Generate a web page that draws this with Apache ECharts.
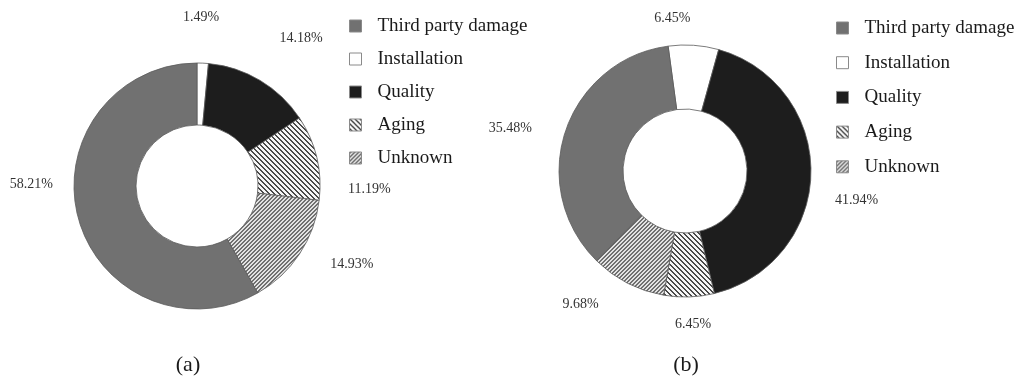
<!DOCTYPE html>
<html>
<head>
<meta charset="utf-8">
<script src="https://cdn.jsdelivr.net/npm/echarts@6/dist/echarts.min.js"></script>
<style>
  html, body { margin: 0; padding: 0; background: #ffffff; }
  #chart { width: 1021px; height: 383px; }
</style>
</head>
<body>
<div id="chart"></div>
<script>
// Failure causes, share of cases (%) for the two pipeline sets
const categories = ['Third party damage', 'Installation', 'Quality', 'Aging', 'Unknown'];
const shareA = [58.21, 1.49, 14.18, 11.19, 14.93];
const shareB = [35.48, 6.45, 41.94, 6.45, 9.68];
const panelCaptions = ['(a)', '(b)'];

// slices run clockwise from the top, beginning with Installation
const sliceOrder = [1, 2, 3, 4, 0];

const SERIF = '"Liberation Serif", "DejaVu Serif", serif';

// diagonal hatch tile; dir 'back' = "\" stripes, 'fwd' = "/" stripes
function hatch(dir, ink, paper, period, width) {
  const c = document.createElement('canvas');
  c.width = period; c.height = period;
  const ctx = c.getContext('2d');
  const img = ctx.createImageData(period, period);
  const parse = h => [parseInt(h.slice(1, 3), 16), parseInt(h.slice(3, 5), 16), parseInt(h.slice(5, 7), 16)];
  const a = parse(ink), b = parse(paper);
  for (let y = 0; y < period; y++) {
    for (let x = 0; x < period; x++) {
      const k = dir === 'back' ? ((x - y) % period + period) % period : (x + y) % period;
      const col = k < width ? a : b;
      const i = (y * period + x) * 4;
      img.data[i] = col[0]; img.data[i + 1] = col[1]; img.data[i + 2] = col[2]; img.data[i + 3] = 255;
    }
  }
  ctx.putImageData(img, 0, 0);
  return { image: c, repeat: 'repeat' };
}

const fills = {
  'Third party damage': '#717171',
  'Installation': '#ffffff',
  'Quality': '#1d1d1d',
  'Aging': hatch('back', '#4a4a4a', '#f6f6f6', 5, 2),
  'Unknown': hatch('fwd', '#707070', '#e2e2e2', 4, 2)
};

// fine placement of the percentage labels around each ring
const labelShiftA = {
  'Third party damage': [11, -40], 'Installation': [-32, -20], 'Quality': [-5, -20],
  'Aging': [-5, 38], 'Unknown': [-2, -4]
};
const labelShiftB = {
  'Third party damage': [2, 5], 'Installation': [-52, -1], 'Quality': [-13, 27],
  'Aging': [-26, 1], 'Unknown': [-6, -2]
};

function buildData(values, shifts) {
  return sliceOrder.map(i => ({
    name: categories[i],
    value: values[i],
    itemStyle: { color: fills[categories[i]] },
    label: { offset: shifts[categories[i]] }
  }));
}

function ringSeries(id, values, center, radius, startAngle, shifts) {
  return {
    type: 'pie',
    id: id,
    center: center,
    radius: radius,
    startAngle: startAngle,
    clockwise: true,
    avoidLabelOverlap: false,
    animation: false,
    silent: true,
    itemStyle: { borderColor: '#5a5a5a', borderWidth: 0.8 },
    label: {
      show: true,
      position: 'outside',
      formatter: p => p.value.toFixed(2) + '%',
      fontFamily: SERIF,
      fontSize: 14,
      color: '#333333'
    },
    labelLine: { show: false, length: 26, length2: 6 },
    emphasis: { disabled: true },
    data: buildData(values, shifts)
  };
}

function legendBox(seriesIndex, left, top, gap) {
  return {
    seriesIndex: seriesIndex,
    data: categories,
    orient: 'vertical',
    left: left,
    top: top,
    icon: 'rect',
    itemWidth: 12,
    itemHeight: 12,
    itemGap: gap,
    selectedMode: false,
    itemStyle: { borderColor: '#8a8a8a', borderWidth: 1 },
    textStyle: {
      fontFamily: SERIF,
      fontSize: 19,
      color: '#1a1a1a',
      lineHeight: 20,
      padding: [0, 0, 0, 11]
    }
  };
}

const chart = echarts.init(document.getElementById('chart'), null, { renderer: 'canvas' });
chart.setOption({
  backgroundColor: '#ffffff',
  legend: [legendBox(0, 344, 11, 13), legendBox(1, 831, 13, 14.7)],
  series: [
    ringSeries('a', shareA, [197, 186], [61, 123], 90, labelShiftA),
    ringSeries('b', shareB, [685, 171], [62, 126], 97.7, labelShiftB)
  ],
  graphic: panelCaptions.map((t, k) => ({
    type: 'text',
    x: k === 0 ? 188 : 686,
    y: 365,
    style: {
      text: t,
      fontFamily: SERIF,
      fontSize: 22,
      fill: '#1a1a1a',
      align: 'center',
      verticalAlign: 'middle'
    }
  }))
});
</script>
</body>
</html>
